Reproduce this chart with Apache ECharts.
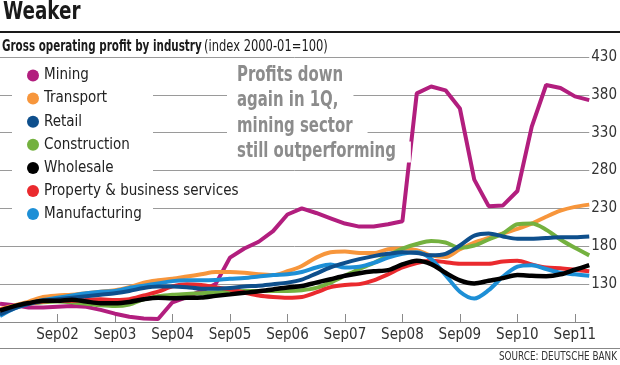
<!DOCTYPE html>
<html><head><meta charset="utf-8">
<script src="https://cdn.jsdelivr.net/npm/echarts@6/dist/echarts.min.js"></script>
<style>html,body{margin:0;padding:0;background:#fff}#c{width:620px;height:365px}</style>
</head><body><div id="c"></div>
<script>
var FONT = "'DejaVu Sans Condensed','Liberation Sans Narrow','Roboto',sans-serif";

var categories = [];
(function(){var q=['Sep','Dec','Mar','Jun'];for(var i=0;i<42;i++){var yr=2001+Math.floor((i+2)/4);var s=String(yr%100);if(s.length<2)s='0'+s;categories.push(q[i%4]+s);}})();

var mining       = [104,102,99,99,100,101,100,96,91,87,84.5,84,106,113,121,130,165,177,186,200,222,230,224,217,210,206,206,209,213,382,391,386,362,268,233,234,253,338,393,389,378,373];
var transport    = [97,102,107,113,115,116,118,120,122,126,132,135,137,140,143,146,146,145,143,142,147,154,165,172,173,171,171,176,177,175,168,166,176,185,191,197,203,210,219,227,232,235];
var retail       = [90,98,104,108,110,112,114,116,118,121,125,127,127,126,124,124,125,127,128,130,132,136,144,152,158,163,167,170,172,171,168,170,181,194,197,193,190,190,191,192,192,193];
var construction = [95,100,104,106,107,106,104,102,101,103,110,114,116,117,118,119,120,121,121,121,121,122,125,132,141,150,158,168,177,183,187,185,178,181,189,197,209,210,202,189,178,168];
var wholesale    = [95,101,105,108,108,109.5,107,104.8,104.8,106.5,110,112,111.5,112,112.4,114.5,116.5,118.5,120.5,123,125.5,127.5,132,136.5,141,144.5,147,148.5,156,161,156.5,145,135,131,134.5,138,142,141,140.5,143,149,155];
var property     = [96,100,104,107,108,108,109,110,109,110,115,120,127,130,129,126,123,119,115,113,112,113,119,126,129,130,135,143,152,158,161,159,157,157,157,160,161,156,152,151,149,147];
var manufacturing= [88,98,104,109,112,115,118,120,121,125,128,131,134,135,135,135.5,137,138,140,142,143,146,152,156,152,153,158,165,170,172,163,142,120,111,122,140,153,155,150,145,143,141];

var legendNames = ['Mining','Transport','Retail','Construction','Wholesale','Property & business services','Manufacturing'];
var annotation = ['Profits down','again in 1Q,','mining sector','still outperforming'];

function ser(name, data, color, smooth, w){
  return {name:name,type:'line',data:data,symbol:'none',smooth:smooth,
    itemStyle:{color:color},lineStyle:{color:color,width:w||4},emphasis:{disabled:true}};
}

var chart = echarts.init(document.getElementById('c'));
var graphics = [
  {type:'text',x:3,y:12.5,scaleX:0.85,z:10,style:{text:'Weaker',font:'bold 24px '+FONT,fill:'#1a1a1a',verticalAlign:'middle'}},
  {type:'line',z:10,shape:{x1:0,y1:32,x2:620,y2:32},style:{stroke:'#1a1a1a',lineWidth:2}},
  {type:'text',x:2,y:46.5,scaleX:0.72,z:10,style:{text:'Gross operating profit by industry',font:'bold 16px '+FONT,fill:'#1a1a1a',verticalAlign:'middle'}},
  {type:'text',x:204,y:46.5,scaleX:0.8,z:10,style:{text:'(index 2000-01=100)',font:'16px '+FONT,fill:'#1a1a1a',verticalAlign:'middle'}},
  {type:'rect',z:1,shape:{x:12,y:62,width:141,height:160},style:{fill:'#fff'}},
  {type:'line',z:10,shape:{x1:0,y1:348.5,x2:620,y2:348.5},style:{stroke:'#888',lineWidth:1}},
  {type:'text',x:617,y:356.5,scaleX:0.82,z:10,style:{text:'SOURCE: DEUTSCHE BANK',font:'12px '+FONT,fill:'#333',align:'right',verticalAlign:'middle'}}
];
var annY=[76,101,126.6,152];
for(var k=0;k<annotation.length;k++){
  graphics.push({type:'text',x:227,y:annY[k],scaleX:0.79,z:10,style:{text:annotation[k],font:'bold 21px '+FONT,fill:'#8c8c8c',verticalAlign:'middle',backgroundColor:'#fff',padding:[0,19,0,12.7]}});
}

chart.setOption({
  animation:false,
  grid:{left:0,right:28,top:57,bottom:43,containLabel:false},
  legend:{orient:'vertical',left:27,top:67.5,padding:0,itemWidth:12,itemHeight:12,itemGap:7.1,icon:'circle',
    data:legendNames,selectedMode:false,
    textStyle:{fontSize:15,color:'#222',fontFamily:FONT,lineHeight:16}},
  xAxis:{type:'category',data:categories,boundaryGap:false,
    axisLine:{show:true,lineStyle:{color:'#8a8a8a',width:1}},
    axisTick:{show:true,inside:true,length:8,interval:function(i){return i>0&&i%4===0;},lineStyle:{color:'#8a8a8a'}},
    axisLabel:{interval:function(i){return i>0&&i%4===0;},fontSize:15,color:'#333',fontFamily:FONT,margin:6},
    splitLine:{show:false}},
  yAxis:{type:'value',position:'right',min:80,max:430,interval:50,
    axisLine:{show:false},axisTick:{show:false},
    axisLabel:{margin:2,fontSize:15,color:'#333',fontFamily:FONT,formatter:function(v){return v===80?'':String(v);}},
    splitLine:{show:true,lineStyle:{color:'#9a9a9a',width:1}}},
  graphic:graphics,
  series:[
    ser('Mining',mining,'#b21e7e',false,4),
    ser('Transport',transport,'#f7963c',0.3,4),
    ser('Construction',construction,'#74b13f',0.3,4),
    ser('Property & business services',property,'#ea2a2e',0.3,4),
    ser('Manufacturing',manufacturing,'#1d8fd6',0.3,4),
    ser('Retail',retail,'#0e4f8c',0.3,4),
    ser('Wholesale',wholesale,'#000000',0.3,4.5)
  ]
});
</script></body></html>
